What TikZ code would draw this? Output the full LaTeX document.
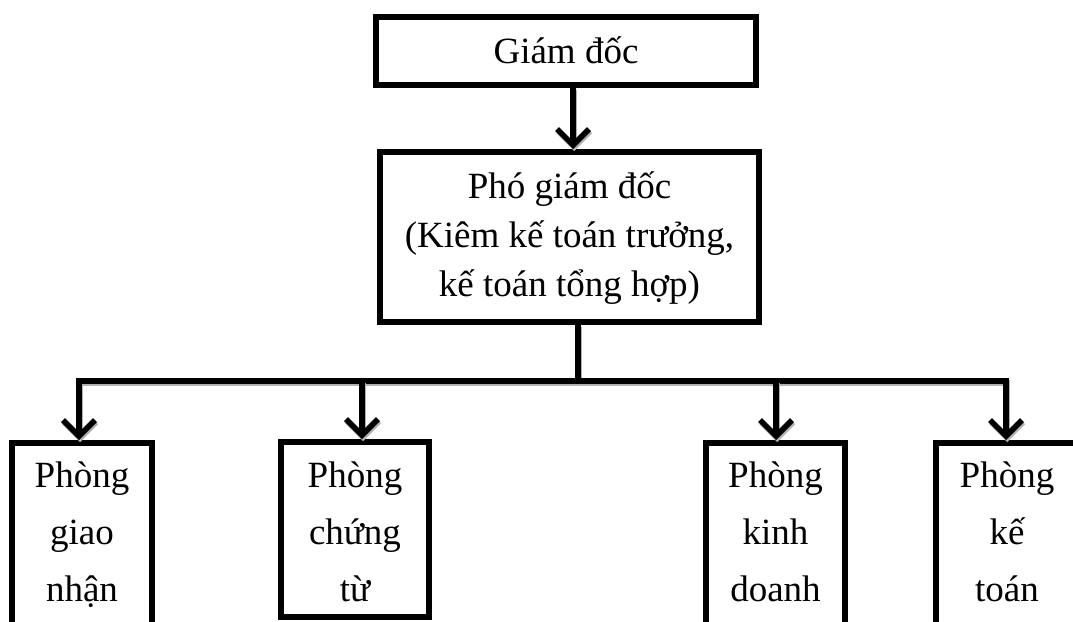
\documentclass[tikz,border=0pt]{standalone}
\usepackage{fontspec}
\setmainfont{Liberation Serif}
\usetikzlibrary{arrows.meta}
\begin{document}
\begin{tikzpicture}[x=1pt,y=-1pt,
  orgbox/.style={draw=black, line width=6pt, rectangle, inner sep=0pt, align=center},
  conn/.style={line width=5.5pt, line join=miter,
    preaction={draw=black!30, line width=5.5pt, transform canvas={shift={(1.2pt,-2.2pt)}}}},
  tipv/.tip={Straight Barb[length=16pt,width=32pt]},
  arr/.style={conn, -tipv},
  bigfont/.style={font=\fontsize{37}{57}\selectfont},
  midfont/.style={font=\fontsize{37}{49}\selectfont}]
\useasboundingbox (0,0) rectangle (1073,621);
\clip (0,0) rectangle (1073,621);
% boxes
\node[orgbox, bigfont, minimum width=380pt, minimum height=68pt, text height=30pt, text depth=6pt] (gd) at (566,51) {Giám đốc};
\node[orgbox, midfont, minimum width=379pt, minimum height=170pt, text height=30pt, text depth=108pt] (pgd) at (569.5,237)
  {\begin{tabular}[t]{@{}c@{}}Phó giám đốc\\(Kiêm kế toán trưởng,\\kế toán tổng hợp)\end{tabular}};
\node[orgbox, bigfont, minimum width=140pt, minimum height=237pt, text height=30pt, text depth=179pt] (b1) at (82,561.5)
  {\begin{tabular}[t]{@{}c@{}}Phòng\\giao\\nhận\end{tabular}};
\node[orgbox, bigfont, minimum width=148pt, minimum height=175pt, text height=30pt, text depth=115pt] (b2) at (355,529.5)
  {\begin{tabular}[t]{@{}c@{}}Phòng\\chứng\\từ\end{tabular}};
\node[orgbox, bigfont, minimum width=139pt, minimum height=237pt, text height=30pt, text depth=179pt] (b3) at (775.5,561.5)
  {\begin{tabular}[t]{@{}c@{}}Phòng\\kinh\\doanh\end{tabular}};
\node[orgbox, bigfont, minimum width=142pt, minimum height=237pt, text height=30pt, text depth=179pt] (b4) at (1007,561.5)
  {\begin{tabular}[t]{@{}c@{}}Phòng\\kế\\toán\end{tabular}};
% bus coordinates
\coordinate (busL) at (79,381);
\coordinate (busR) at (1006,381);
\coordinate (busB) at (362,381);
\coordinate (busC) at (776,381);
% connectors
\draw[arr] ([xshift=7pt]gd.south) -- ([xshift=7pt]gd.south |- pgd.north);
\draw[conn] ([xshift=8.5pt]pgd.south) -- ([xshift=8.5pt]pgd.south |- busL);
\draw[conn, tipv-tipv] (busL |- b1.north) -- (busL) -- (busR) -- (busR |- b4.north);
\draw[arr] (busB) -- (busB |- b2.north);
\draw[arr] (busC) -- (busC |- b3.north);
\end{tikzpicture}
\end{document}
